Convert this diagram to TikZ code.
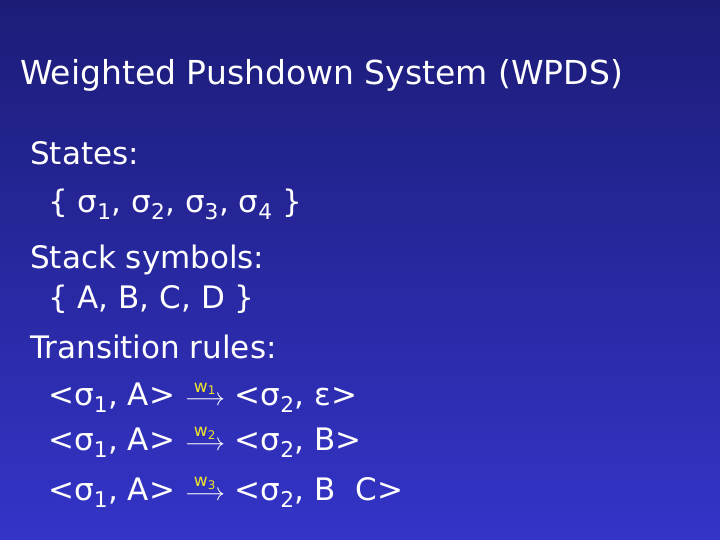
\documentclass[tikz,border=0pt]{standalone}
\usepackage{fontspec}
\setmainfont{DejaVu Sans}
\definecolor{bgtop}{RGB}{28,28,120}
\definecolor{bgbot}{RGB}{52,52,200}
\definecolor{wyel}{RGB}{240,230,40}
\tikzset{txt/.style={anchor=base west,inner sep=0pt,text=white,font=\fontsize{31}{31}\selectfont}}
\newcommand{\arr}[1]{$\mathrel{\stackrel{\mbox{\color{wyel}\fontsize{17}{17}\selectfont w\textsubscript{#1}}}{\longrightarrow}}$}
\begin{document}
\begin{tikzpicture}[x=1pt,y=-1pt]
\shade[top color=bgtop,bottom color=bgbot] (0,0) rectangle (720,540);
\useasboundingbox (0,0) rectangle (720,540);
\node[txt,font=\fontsize{33}{33}\selectfont] (title) at (20,85) {Weighted Pushdown System (WPDS)};
\node[txt] (s) at (30,165) {States:};
\node[txt] (s1) at (48,212) {\{ σ\textsubscript{1}, σ\textsubscript{2}, σ\textsubscript{3}, σ\textsubscript{4} \}};
\node[txt] (ss) at (30,268) {Stack symbols:};
\node[txt] (ss1) at (48,308) {\{ A, B, C, D \}};
\node[txt] (tr) at (30,358) {Transition rules:};
\node[txt] (r1) at (48,405) {<σ\textsubscript{1}, A> \arr{1} <σ\textsubscript{2}, ε>};
\node[txt] (r2) at (48,450) {<σ\textsubscript{1}, A> \arr{2} <σ\textsubscript{2}, B>};
\node[txt] (r3) at (48,500) {<σ\textsubscript{1}, A> \arr{3} <σ\textsubscript{2}, B\ \ C>};
\end{tikzpicture}
\end{document}
